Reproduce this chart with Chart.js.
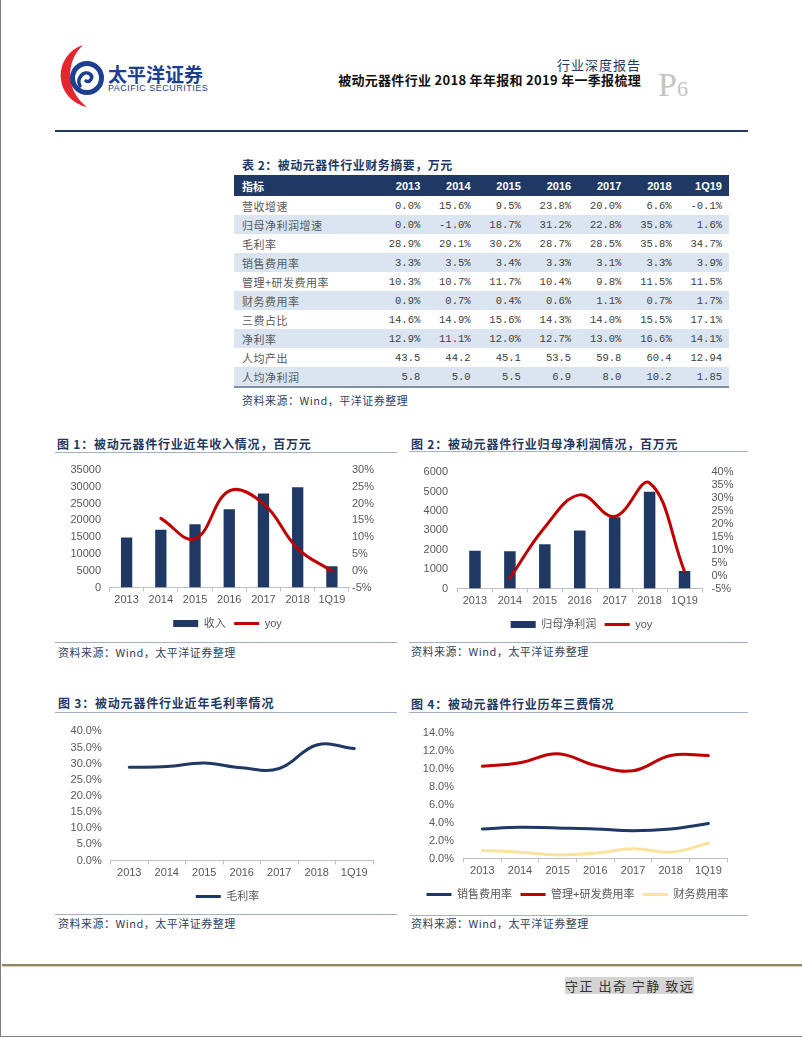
<!DOCTYPE html>
<html lang="zh-CN">
<head>
<meta charset="utf-8">
<title>被动元器件行业 2018 年年报和 2019 年一季报梳理</title>
<script src="https://cdn.jsdelivr.net/npm/chart.js@4.4.1/dist/chart.umd.min.js"></script>
<style>
  html, body { margin: 0; padding: 0; background: #fff; }
  body { position: relative; width: 802px; height: 1037px; overflow: hidden; font-family: 'Noto Sans CJK SC', sans-serif; }
  .abs { position: absolute; white-space: nowrap; }
  .frame { left: 0; top: 0; width: 802px; height: 1037px; box-sizing: border-box; border-left: 1px solid #7f7f7f; border-bottom: 1px solid #7f7f7f; }
  .brand { font-size: 19px; line-height: 22px; font-weight: 700; color: #1d3f91; }
  .brand-en { font-size: 9px; line-height: 11px; color: #1d3f91; letter-spacing: 0.5px; font-family: 'Liberation Sans', sans-serif; }
  .report-type { right: 161px; top: 57px; font-size: 13px; line-height: 16px; color: #1f3864; letter-spacing: 1px; }
  .report-name { right: 161px; top: 72px; font-size: 13px; line-height: 16px; font-weight: 700; color: #111; letter-spacing: 0.3px; }
  .page-no { left: 658px; top: 68px; line-height: 34px; color: #c4c4c4; font-family: 'Liberation Serif', serif; }
  .fig-title { font-size: 12px; line-height: 14px; font-weight: 700; color: #1f3864; letter-spacing: 0.8px; }
  .rule { height: 0; border-top: 1px solid #a3b1c6; }
  .source { font-size: 11px; line-height: 13px; color: #2f3f5f; letter-spacing: 0.5px; }
  canvas { position: absolute; }
  #finTable { position: absolute; left: 234px; top: 175px; width: 495px; border-collapse: collapse; table-layout: fixed; border-bottom: 2px solid #7f8fa9; }
  #finTable th { height: 21px; padding: 0 7px 0 0; background: #1f3864; color: #fff; font: bold 11px 'Liberation Sans', 'Noto Sans CJK SC', sans-serif; text-align: right; }
  #finTable th:first-child { text-align: left; padding-left: 8px; width: 128px; font-family: 'Noto Sans CJK SC', sans-serif; }
  #finTable td { height: 19px; padding: 0 7px 0 0; color: #404040; font: 10.5px 'Liberation Mono', monospace; text-align: right; }
  #finTable td:first-child { text-align: left; padding-left: 8px; color: #595959; font: 11px 'Noto Sans CJK SC', sans-serif; letter-spacing: 0.5px; }
  #finTable tr.shade td { background: #dbe5f1; }
  .footer-rule { left: 2px; top: 964px; width: 800px; height: 0; border-top: 2px solid #8f8462; border-bottom: 1px solid #ddd3b0; }
  .motto { left: 565px; top: 977px; width: 129px; height: 17px; background: #d4d4d4; color: #333; font-size: 13px; line-height: 17px; text-align: center; letter-spacing: 1.5px; }
</style>
</head>
<body>
<div class="abs frame"></div>

<!-- 页眉 -->
<svg class="abs" style="left:50px;top:40px" width="60" height="72" viewBox="50 40 60 72">
  <path d="M83 45 A32 32 0 0 0 87 107 A40 40 0 0 1 83 45 Z" fill="#e5262d"/>
  <circle cx="87" cy="78" r="14.5" fill="none" stroke="#1d3f91" stroke-width="5"/>
  <path d="M80 86 C76 78 84 70 90 74 C94 77 90 83 86 81" fill="none" stroke="#1d3f91" stroke-width="3.5" stroke-linecap="round"/>
</svg>
<div class="abs brand" style="left:108px;top:63px">太平洋证券</div>
<div class="abs brand-en" style="left:108px;top:83px">PACIFIC SECURITIES</div>
<div class="abs report-type">行业深度报告</div>
<div class="abs report-name">被动元器件行业 2018 年年报和 2019 年一季报梳理</div>
<div class="abs page-no"><span style="font-size:34px">P</span><span style="font-size:22px">6</span></div>
<div class="abs" style="left:55px;top:130px;width:693px;border-top:2px solid #1f3864"></div>

<!-- 表 2 -->
<div class="abs fig-title" style="left:242px;top:158px;letter-spacing:0.5px">表 2：被动元器件行业财务摘要，万元</div>
<table id="finTable"></table>
<div class="abs source" style="left:242px;top:394px">资料来源：Wind，平洋证券整理</div>

<!-- 图 1 -->
<div class="abs fig-title" style="left:57px;top:437px">图 1：被动元器件行业近年收入情况，百万元</div>
<div class="abs rule" style="left:55px;top:452px;width:342px"></div>
<canvas id="revenueChart" width="345" height="184" style="left:55px;top:455px"></canvas>
<div class="abs rule" style="left:55px;top:642px;width:342px"></div>
<div class="abs source" style="left:58px;top:646px">资料来源：Wind，太平洋证券整理</div>

<!-- 图 2 -->
<div class="abs fig-title" style="left:411px;top:437px">图 2：被动元器件行业归母净利润情况，百万元</div>
<div class="abs rule" style="left:409px;top:451px;width:339px"></div>
<canvas id="profitChart" width="345" height="184" style="left:405px;top:456px"></canvas>
<div class="abs rule" style="left:409px;top:642px;width:339px"></div>
<div class="abs source" style="left:411px;top:645px">资料来源：Wind，太平洋证券整理</div>

<!-- 图 3 -->
<div class="abs fig-title" style="left:58px;top:696px">图 3：被动元器件行业近年毛利率情况</div>
<div class="abs rule" style="left:55px;top:712px;width:342px"></div>
<canvas id="marginChart" width="345" height="196" style="left:55px;top:716px"></canvas>
<div class="abs rule" style="left:55px;top:914px;width:342px"></div>
<div class="abs source" style="left:58px;top:917px">资料来源：Wind，太平洋证券整理</div>

<!-- 图 4 -->
<div class="abs fig-title" style="left:411px;top:697px">图 4：被动元器件行业历年三费情况</div>
<div class="abs rule" style="left:409px;top:712px;width:339px"></div>
<canvas id="feeChart" width="345" height="193" style="left:405px;top:717px"></canvas>
<div class="abs rule" style="left:409px;top:915px;width:339px"></div>
<div class="abs source" style="left:411px;top:917px">资料来源：Wind，太平洋证券整理</div>

<!-- 页脚 -->
<div class="abs footer-rule"></div>
<div class="abs motto">守正 出奇 宁静 致远</div>

<script>
// 期间
const periods = ['2013', '2014', '2015', '2016', '2017', '2018', '1Q19'];

// 表 2 数据
const revenueGrowth = [0.0, 15.6, 9.5, 23.8, 20.0, 6.6, -0.1];
const profitGrowth = [0.0, -1.0, 18.7, 31.2, 22.8, 35.8, 1.6];
const grossMargin = [28.9, 29.1, 30.2, 28.7, 28.5, 35.8, 34.7];
const sellingRate = [3.3, 3.5, 3.4, 3.3, 3.1, 3.3, 3.9];
const adminRdRate = [10.3, 10.7, 11.7, 10.4, 9.8, 11.5, 11.5];
const financeRate = [0.9, 0.7, 0.4, 0.6, 1.1, 0.7, 1.7];
const threeFeeRatio = [14.6, 14.9, 15.6, 14.3, 14.0, 15.5, 17.1];
const netMargin = [12.9, 11.1, 12.0, 12.7, 13.0, 16.6, 14.1];
const outputPerHead = [43.5, 44.2, 45.1, 53.5, 59.8, 60.4, 12.94];
const profitPerHead = [5.8, 5.0, 5.5, 6.9, 8.0, 10.2, 1.85];

// 图 1 / 图 2 柱子（百万元，读图估计）
const revenue = [14900, 17220, 18860, 23350, 28020, 29870, 6330];
const netProfit = [1940, 1920, 2280, 2990, 3670, 4990, 900];
// yoy 从 2014 开始画
const revenueYoy = [null, 15.6, 9.5, 23.8, 20.0, 6.6, -0.1];
const profitYoy = [null, -1.0, 18.7, 31.2, 22.8, 35.8, 1.6];

const NAVY = '#1f3864';
const RED = '#c00000';
const GOLD = '#fae39e';
const AXIS_GRAY = '#595959';

const pct1 = v => v.toFixed(1) + '%';
const plain = v => v.toFixed(Math.max(1, (String(v).split('.')[1] || '').length));

function buildTable() {
    const rows = [
        ['营收增速', revenueGrowth, pct1],
        ['归母净利润增速', profitGrowth, pct1],
        ['毛利率', grossMargin, pct1],
        ['销售费用率', sellingRate, pct1],
        ['管理+研发费用率', adminRdRate, pct1],
        ['财务费用率', financeRate, pct1],
        ['三费占比', threeFeeRatio, pct1],
        ['净利率', netMargin, pct1],
        ['人均产出', outputPerHead, plain],
        ['人均净利润', profitPerHead, plain]
    ];
    let html = '<thead><tr><th>指标</th>' + periods.map(p => `<th>${p}</th>`).join('') + '</tr></thead><tbody>';
    rows.forEach(([name, values, fmt], i) => {
        html += `<tr class="${i % 2 ? 'shade' : ''}"><td>${name}</td>` +
            values.map(v => `<td>${fmt(v)}</td>`).join('') + '</tr>';
    });
    document.getElementById('finTable').innerHTML = html + '</tbody>';
}

Chart.defaults.font.family = "'Liberation Sans', 'Noto Sans CJK SC', sans-serif";
Chart.defaults.font.size = 11;
Chart.defaults.color = AXIS_GRAY;
Chart.defaults.animation = false;

// 类目轴：刻度线在类目之间
function categoryAxis() {
    return {
        offset: true,
        grid: { display: true, offset: true, drawOnChartArea: false, drawTicks: true, tickLength: 4, color: '#bfbfbf' },
        border: { display: true, color: '#bfbfbf' },
        ticks: { padding: 2, autoSkip: false, maxRotation: 0, color: AXIS_GRAY },
        afterFit: axis => { axis.height = 22; }
    };
}

function valueAxis(position, min, max, step, width, pad, fmt) {
    return {
        position: position,
        min: min,
        max: max,
        grid: { display: false, drawTicks: false },
        border: { display: false },
        ticks: { stepSize: step, padding: pad, autoSkip: false, color: AXIS_GRAY, callback: fmt },
        afterFit: axis => { axis.width = width; }
    };
}

// 右侧留白用的空轴（不画任何东西）
function spacerAxis(width) {
    return {
        position: 'right',
        display: true,
        grid: { display: false, drawTicks: false },
        border: { display: false },
        ticks: { display: false },
        afterFit: axis => { axis.width = width; }
    };
}

function legendOptions() {
    return {
        position: 'bottom',
        labels: {
            usePointStyle: true,
            pointStyleWidth: 25,
            boxHeight: 7,
            padding: 8.5,
            color: AXIS_GRAY,
            sort: (a, b) => a.datasetIndex - b.datasetIndex
        }
    };
}

function lineSet(label, data, color, extra) {
    return Object.assign({
        type: 'line',
        label: label,
        data: data,
        borderColor: color,
        backgroundColor: color,
        borderWidth: 3,
        pointRadius: 0,
        pointStyle: 'line',
        tension: 0.4,
        borderJoinStyle: 'round',
        borderCapStyle: 'round'
    }, extra || {});
}

// 柱 + yoy 折线
function drawBarYoy(id, barLabel, bars, yoy, barMax, barStep, yoyMin, yoyMax, dims) {
    new Chart(document.getElementById(id), {
        data: {
            labels: periods,
            datasets: [
                {
                    type: 'bar',
                    label: barLabel,
                    data: bars,
                    yAxisID: 'y',
                    backgroundColor: NAVY,
                    barPercentage: 0.33,
                    categoryPercentage: 1,
                    pointStyle: 'rect',
                    order: 1
                },
                lineSet('yoy', yoy, RED, { yAxisID: 'y1', order: 0 })
            ]
        },
        options: {
            responsive: false,
            layout: { padding: { top: 10, left: dims.padLeft, right: 0, bottom: 0 } },
            plugins: { legend: legendOptions(), tooltip: { enabled: false } },
            scales: {
                x: categoryAxis(),
                y: valueAxis('left', 0, barMax, barStep, dims.leftWidth, dims.leftPad, v => v),
                y1: valueAxis('right', yoyMin, yoyMax, 5, dims.rightWidth, dims.rightPad, v => v + '%')
            }
        }
    });
}

function drawLines(id, datasets, yMax, yStep, dims) {
    new Chart(document.getElementById(id), {
        type: 'line',
        data: { labels: periods, datasets: datasets },
        options: {
            responsive: false,
            layout: { padding: { top: 10, left: 0, right: 0, bottom: 0 } },
            plugins: { legend: legendOptions(), tooltip: { enabled: false } },
            scales: {
                x: categoryAxis(),
                y: valueAxis('left', 0, yMax, yStep, dims.leftWidth, dims.leftPad, v => v.toFixed(1) + '%'),
                gap: spacerAxis(dims.rightWidth)
            }
        }
    });
}

buildTable();

drawBarYoy('revenueChart', '收入', revenue, revenueYoy, 35000, 5000, -5, 30,
    { padLeft: 0, leftWidth: 54.5, leftPad: 8.5, rightWidth: 51, rightPad: 3 });

drawBarYoy('profitChart', '归母净利润', netProfit, profitYoy, 6000, 1000, -5, 40,
    { padLeft: 8, leftWidth: 44.5, leftPad: 9.5, rightWidth: 48, rightPad: 9.5 });

drawLines('marginChart', [lineSet('毛利率', grossMargin, NAVY)], 40, 5,
    { leftWidth: 55.5, leftPad: 8.8, rightWidth: 27 });

drawLines('feeChart', [
    lineSet('销售费用率', sellingRate, NAVY),
    lineSet('管理+研发费用率', adminRdRate, RED),
    lineSet('财务费用率', financeRate, GOLD)
], 14, 2, { leftWidth: 58.5, leftPad: 9.5, rightWidth: 22.8 });
</script>
</body>
</html>
